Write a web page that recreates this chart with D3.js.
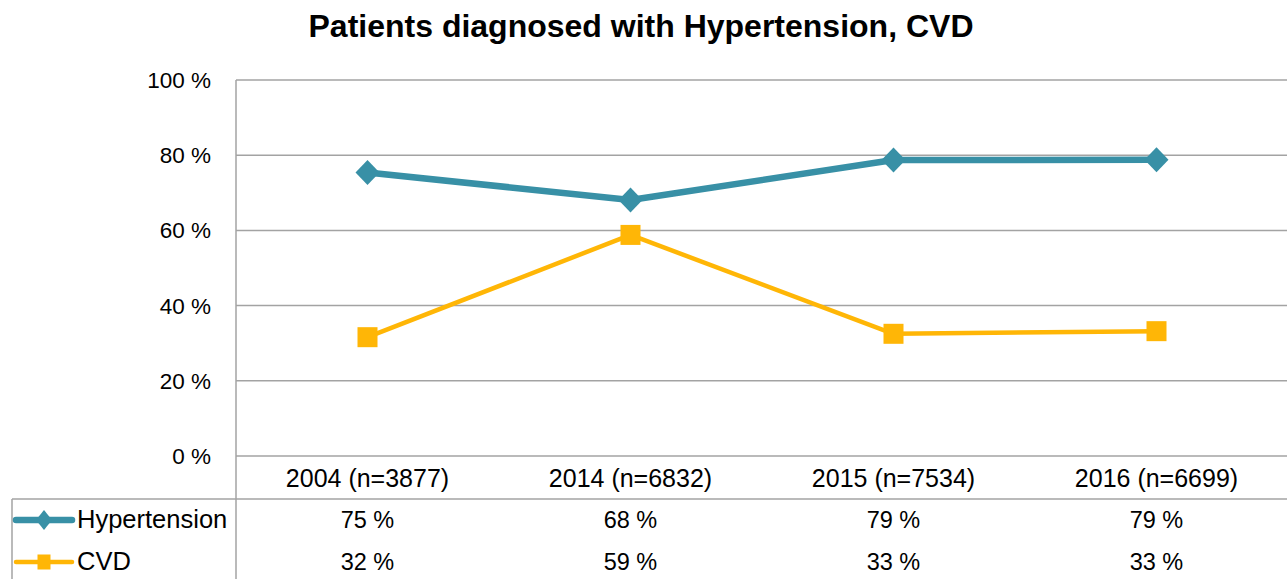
<!DOCTYPE html>
<html>
<head>
<meta charset="utf-8">
<script src="https://cdn.jsdelivr.net/npm/d3@7"></script>
<style>
    body { margin: 0; background: #fff; }
    svg { display: block; font-family: "Liberation Sans", Arial, sans-serif; }
</style>
</head>
<body>
<div id="chart"></div>
<script>
(function () {
    'use strict';

    // chart data
    var categories = ["2004 (n=3877)", "2014 (n=6832)", "2015 (n=7534)", "2016 (n=6699)"];
    var seriesNames = ["Hypertension", "CVD"];
    var hypertension = [75.4, 68.1, 78.7, 78.8];
    var cvd = [31.6, 58.8, 32.5, 33.2];
    var yTicks = [0, 20, 40, 60, 80, 100];

    var width = 1287,
        height = 579,
        plot = { left: 236, right: 1288, top: 80, bottom: 456 },
        tableTop = 499,
        rowY = [520, 562],
        colors = { Hypertension: "#3890a6", CVD: "#ffb606" },
        gridColor = "#a3a3a3";

    var series = [
        { name: seriesNames[0], values: hypertension, width: 6.5, marker: "diamond" },
        { name: seriesNames[1], values: cvd, width: 4.5, marker: "square" }
    ];

    var svg = d3.select("#chart").append("svg")
        .attr("width", width)
        .attr("height", height);

    var x = d3.scaleBand().domain(categories).range([plot.left, plot.right]).padding(0);
    var y = d3.scaleLinear().domain([0, 100]).range([plot.bottom, plot.top]);
    var cx = function (d) { return x(d) + x.bandwidth() / 2; };

    // title
    svg.append("text")
        .attr("x", 641)
        .attr("y", 37)
        .attr("text-anchor", "middle")
        .style("font-size", "32px")
        .style("font-weight", "bold")
        .text("Patients diagnosed with Hypertension, CVD");

    // gridlines
    svg.append("g").selectAll("line")
        .data(yTicks)
        .enter().append("line")
        .attr("x1", plot.left).attr("x2", plot.right)
        .attr("y1", function (d) { return y(d); })
        .attr("y2", function (d) { return y(d); })
        .attr("stroke", gridColor)
        .attr("stroke-width", 1.5);

    // y axis labels
    svg.append("g").selectAll("text")
        .data(yTicks)
        .enter().append("text")
        .attr("x", 211)
        .attr("y", function (d) { return y(d) + 8; })
        .attr("text-anchor", "end")
        .style("font-size", "22.5px")
        .text(function (d) { return d + " %"; });

    // table frame
    svg.append("line")
        .attr("x1", plot.left).attr("x2", plot.left)
        .attr("y1", plot.top).attr("y2", height)
        .attr("stroke", gridColor).attr("stroke-width", 1.5);
    svg.append("line")
        .attr("x1", 12).attr("x2", plot.right)
        .attr("y1", tableTop).attr("y2", tableTop)
        .attr("stroke", gridColor).attr("stroke-width", 1.5);
    svg.append("line")
        .attr("x1", 12).attr("x2", 12)
        .attr("y1", tableTop).attr("y2", height)
        .attr("stroke", gridColor).attr("stroke-width", 1.5);

    // category labels
    svg.append("g").selectAll("text")
        .data(categories)
        .enter().append("text")
        .attr("x", cx)
        .attr("y", 487)
        .attr("text-anchor", "middle")
        .style("font-size", "25px")
        .text(function (d) { return d; });

    function drawMarker(g, type, w, h, color) {
        if (type === "diamond") {
            g.append("path")
                .attr("d", "M0," + (-h / 2) + "L" + (w / 2) + ",0L0," + (h / 2) + "L" + (-w / 2) + ",0Z")
                .attr("fill", color);
        } else {
            g.append("rect")
                .attr("x", -w / 2).attr("y", -h / 2)
                .attr("width", w).attr("height", h)
                .attr("fill", color);
        }
    }

    var line = d3.line()
        .x(function (d, i) { return cx(categories[i]); })
        .y(function (d) { return y(d); });

    series.forEach(function (s, si) {
        var color = colors[s.name];
        var mw = s.marker === "diamond" ? 24 : 20,
            mh = s.marker === "diamond" ? 25 : 20;

        svg.append("path")
            .datum(s.values)
            .attr("fill", "none")
            .attr("stroke", color)
            .attr("stroke-width", s.width)
            .attr("stroke-linejoin", "round")
            .attr("d", line);

        svg.append("g").selectAll("g")
            .data(s.values)
            .enter().append("g")
            .attr("transform", function (d, i) {
                return "translate(" + cx(categories[i]) + "," + y(d) + ")";
            })
            .each(function () { drawMarker(d3.select(this), s.marker, mw, mh, color); });

        // table row: legend key, name, values
        var ry = rowY[si];
        var key = svg.append("g").attr("transform", "translate(44," + ry + ")");
        key.append("line")
            .attr("x1", -28).attr("x2", 28)
            .attr("stroke", color)
            .attr("stroke-width", s.width)
            .attr("stroke-linecap", "round");
        if (s.marker === "diamond") drawMarker(key, s.marker, 16, 20, color);
        else drawMarker(key, s.marker, 13, 15, color);

        svg.append("text")
            .attr("x", 77)
            .attr("y", ry + 8)
            .style("font-size", "25.5px")
            .text(s.name);

        svg.append("g").selectAll("text")
            .data(s.values)
            .enter().append("text")
            .attr("x", function (d, i) { return cx(categories[i]); })
            .attr("y", ry + 8)
            .attr("text-anchor", "middle")
            .style("font-size", "23.5px")
            .text(function (d) { return d3.format(".0f")(d) + " %"; });
    });
})();
</script>
</body>
</html>
